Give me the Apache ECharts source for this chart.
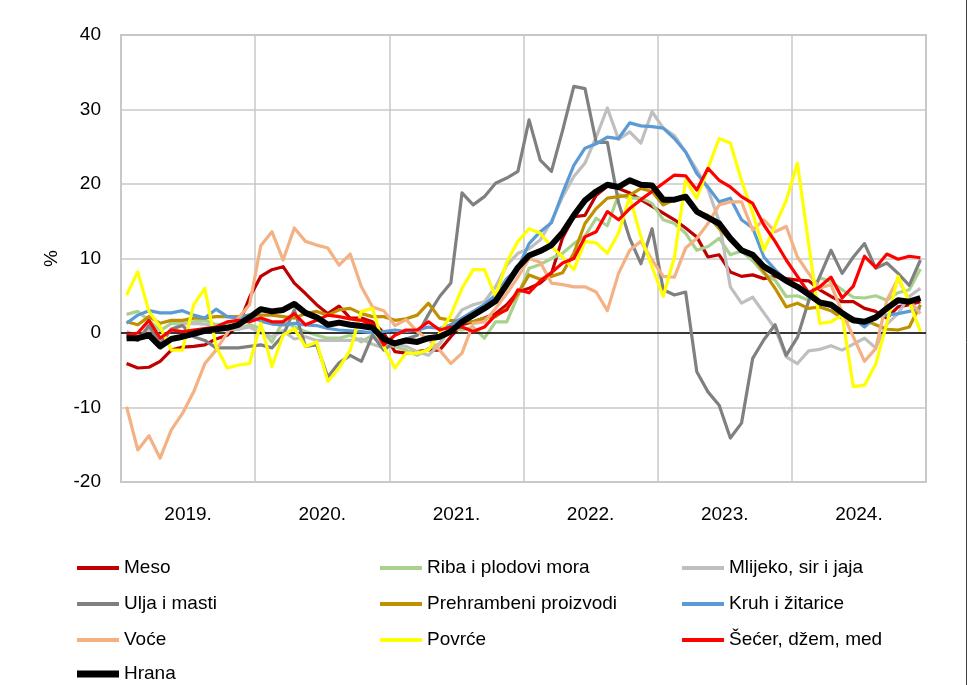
<!DOCTYPE html>
<html><head><meta charset="utf-8">
<script src="https://cdn.jsdelivr.net/npm/echarts@6/dist/echarts.min.js"></script>
<style>html,body{margin:0;padding:0;background:#fff}#c{width:973px;height:685px}</style>
</head><body><div id="c"></div><script>
const years = ['2019.', '2020.', '2021.', '2022.', '2023.', '2024.'];
const monthNames = ['01','02','03','04','05','06','07','08','09','10','11','12'];
const yTicks = { min: -20, max: 40, interval: 10 };

const meso = [
 -4.1,-4.7,-4.6,-3.8,-2.3,-1.9,-1.8,-1.6,-0.8,-0.3,1.0,4.8,
 7.6,8.5,8.9,6.7,5.3,3.8,2.6,3.6,2.0,2.0,1.5,0.0,
 -2.5,-2.7,-2.5,-2.3,-2.3,-0.5,1.1,1.5,2.0,2.6,3.8,5.5,
 6.0,6.7,8.0,12.8,15.6,15.8,18.5,19.7,19.4,18.8,17.9,17.0,
 16.1,15.2,14.1,12.9,10.2,10.5,8.2,7.6,7.8,7.3,7.6,7.3,
 7.1,7.0,5.8,4.9,4.2,4.2,3.3,2.9,2.0,3.5,3.8,4.2];
const riba = [
 2.5,2.9,1.7,0.3,1.3,1.3,1.5,1.7,1.1,1.3,0.5,1.1,
 0.6,-1.2,1.6,0.8,0.2,-0.3,-0.7,-0.7,-0.3,-1.2,-0.3,-1.5,
 -1.8,-2.3,-3.0,-2.1,-1.4,0.6,0.4,0.8,-0.7,1.5,1.5,5.0,
 8.7,9.2,10.0,10.7,12.0,13.0,15.4,14.4,18.6,18.1,18.1,17.4,
 15.2,14.7,13.4,11.1,11.6,12.7,10.5,11.0,9.7,8.0,7.1,4.9,
 5.0,4.4,7.4,6.9,5.8,4.8,4.7,5.0,4.4,5.4,5.8,8.6];
const mlijeko = [
 0.2,-0.5,0.5,-1.0,0.5,1.2,1.3,1.2,0.8,0.5,0.5,0.8,
 0.0,-0.5,0.3,-0.8,-0.5,-1.0,-1.0,-1.0,-1.0,-0.8,-1.5,-2.0,
 -1.5,-1.8,-2.5,-3.0,-1.5,1.0,3.1,3.8,4.2,6.2,9.1,10.7,
 11.3,12.5,15.0,18.3,21.0,22.8,26.3,30.2,26.0,27.0,25.5,29.7,
 27.5,26.5,24.3,21.9,19.3,15.0,6.2,4.0,4.8,2.7,0.6,-3.2,
 -4.1,-2.4,-2.2,-1.7,-2.3,-1.5,-0.7,-2.0,1.2,2.6,4.9,6.0];
const ulja = [
 -0.5,-1.0,1.0,-1.5,0.5,1.0,-0.5,-1.0,-2.0,-2.0,-2.0,-1.8,
 -1.6,-2.0,-0.3,3.1,-1.8,-1.6,-5.9,-4.0,-3.0,-3.8,-0.3,-2.3,
 -1.2,-0.8,-0.3,2.5,4.9,6.7,18.8,17.2,18.3,20.1,20.8,21.7,
 28.6,23.2,21.7,27.2,33.1,32.8,25.6,25.6,17.5,12.7,9.3,14.0,
 5.8,5.1,5.5,-5.2,-7.9,-9.7,-14.1,-12.1,-3.4,-0.9,1.1,-3.0,
 -0.6,4.3,7.6,11.1,8.0,10.2,12.0,8.7,9.4,8.0,6.4,9.8];
const prehrambeni = [
 1.5,1.1,2.2,1.3,1.7,1.7,2.0,2.0,2.2,2.2,2.2,2.4,
 2.4,2.4,2.2,2.0,2.6,2.9,2.4,3.1,3.3,2.6,2.2,2.2,
 1.7,1.9,2.4,4.0,2.0,1.7,1.5,1.5,2.0,2.2,3.3,5.3,
 7.8,7.2,7.6,8.1,10.7,14.7,16.7,18.1,18.3,18.5,19.4,19.0,
 17.2,17.9,18.1,16.2,15.8,14.0,12.5,11.3,10.2,8.2,6.0,3.5,
 4.0,3.3,3.5,3.0,2.0,1.5,1.7,1.1,0.5,0.4,0.8,3.8];
const kruh = [
 1.3,2.4,3.0,2.7,2.7,3.0,2.4,2.0,3.2,2.2,2.0,2.4,
 1.6,1.2,1.1,1.3,1.1,1.0,0.6,0.4,0.3,0.2,0.0,0.2,
 0.4,0.2,0.4,0.8,0.6,1.1,2.0,2.9,3.8,5.1,7.3,8.7,
 12.0,13.6,14.8,18.8,22.5,24.8,25.4,26.3,26.1,28.2,27.8,27.7,
 27.5,26.1,24.3,21.4,19.6,17.6,18.1,15.2,14.1,10.2,8.5,7.1,
 6.2,4.9,4.0,3.6,2.6,2.0,0.8,2.2,2.4,2.6,2.9,3.3];
const voce = [
 -9.9,-15.7,-13.8,-16.8,-13.0,-10.8,-7.9,-4.1,-2.3,0.0,2.0,3.8,
 11.7,13.6,9.8,14.1,12.3,11.8,11.4,9.1,10.6,6.2,3.5,3.0,
 1.0,1.8,0.2,-0.9,-2.3,-4.1,-2.7,1.3,1.5,3.3,5.3,7.5,
 10.0,9.5,6.7,6.5,6.2,6.2,5.5,3.0,8.0,11.1,12.3,9.8,
 7.6,7.5,11.4,12.7,14.7,17.2,17.6,17.6,13.8,15.2,13.6,14.3,
 10.2,8.0,6.0,6.5,2.8,-0.5,-3.8,-2.1,4.4,7.3,4.4,2.6];
const povrce = [
 5.1,8.2,2.9,0.8,-2.3,-2.3,3.8,6.0,-1.8,-4.7,-4.3,-4.1,
 1.3,-4.5,-0.3,0.6,-1.8,-1.2,-6.5,-4.7,-2.3,2.9,3.3,-1.8,
 -4.7,-2.7,-2.7,-2.3,0.0,2.4,6.0,8.5,8.5,4.9,9.5,12.3,
 14.0,13.4,11.6,10.2,8.5,12.3,12.1,10.7,13.4,18.3,12.9,8.9,
 4.9,10.2,20.5,18.1,22.1,26.1,25.5,20.5,16.1,11.1,14.4,17.8,
 22.8,12.0,1.3,1.5,2.4,-7.2,-7.0,-4.2,1.3,7.6,4.2,0.2];
const secer = [
 -0.3,0.0,1.7,-0.7,0.4,0.2,0.4,0.6,0.8,1.5,1.7,1.5,
 2.0,1.5,1.5,2.6,1.1,1.7,2.4,2.2,1.9,1.7,1.1,-1.6,
 -0.3,0.4,0.4,1.5,0.4,0.8,0.8,0.2,0.8,2.4,3.1,5.8,
 5.4,7.0,8.1,9.4,10.0,12.9,13.6,16.3,15.2,16.7,17.9,19.0,
 20.1,21.2,21.1,19.2,22.1,20.5,19.6,18.3,17.4,14.5,12.3,9.8,
 7.6,5.4,6.2,7.5,4.7,6.3,10.3,8.8,10.6,9.9,10.3,10.1];
const hrana = [
 -0.7,-0.7,-0.3,-1.8,-0.8,-0.5,-0.1,0.3,0.5,0.7,1.1,2.1,
 3.2,2.9,3.1,3.9,2.7,2.1,1.1,1.4,1.1,0.95,0.7,-0.8,
 -1.4,-1.0,-1.2,-0.7,-0.5,0.2,1.5,2.4,3.3,4.3,6.5,8.8,
 10.4,11.0,11.8,13.5,15.8,17.8,19.0,19.9,19.6,20.5,19.9,19.8,
 17.9,17.9,18.3,16.3,15.5,14.7,12.7,11.1,10.5,8.9,8.0,7.0,
 6.2,5.2,4.1,3.8,2.7,1.7,1.5,2.1,3.3,4.4,4.2,4.7];

const seriesDefs = [
  ['Meso', meso, '#C00000', 3.2],
  ['Riba i plodovi mora', riba, '#A9D18E', 3.2],
  ['Mlijeko, sir i jaja', mlijeko, '#BFBFBF', 3.2],
  ['Ulja i masti', ulja, '#808080', 3.2],
  ['Prehrambeni proizvodi', prehrambeni, '#BF9000', 3.2],
  ['Kruh i žitarice', kruh, '#5B9BD5', 3.2],
  ['Voće', voce, '#F4B183', 3.2],
  ['Povrće', povrce, '#FFFF00', 3.2],
  ['Šećer, džem, med', secer, '#FF0000', 3.2],
  ['Hrana', hrana, '#000000', 6]
];

const months = [];
years.forEach(y => monthNames.forEach(m => months.push(m + '.' + y)));

const FONT = 'Liberation Sans, Arial, sans-serif';
const series = seriesDefs.map((d, i) => ({
  name: d[0], type: 'line', data: d[1], xAxisIndex: 0, yAxisIndex: 0,
  symbol: 'none', smooth: false, animation: false,
  lineStyle: { color: d[2], width: d[3], join: 'round' },
  itemStyle: { color: d[2] },
  z: 2 + i
}));
series[0].markLine = {
  silent: true, symbol: 'none', label: { show: false },
  lineStyle: { color: '#000', width: 1.5, type: 'solid' },
  data: [{ yAxis: 0 }], animation: false
};

const legendBase = {
  orient: 'vertical', itemWidth: 42, itemHeight: 4, icon: 'rect', itemGap: 14,
  selectedMode: false, padding: 0,
  textStyle: { fontFamily: FONT, fontSize: 19, color: '#000', lineHeight: 22 }
};

const chart = echarts.init(document.getElementById('c'), null, { renderer: 'canvas' });
chart.setOption({
  backgroundColor: '#fff',
  animation: false,
  grid: { left: 121, right: 47, top: 35, bottom: 203, show: true, borderColor: '#c8c8c8', borderWidth: 2, backgroundColor: 'transparent' },
  xAxis: [
    { type: 'category', data: months, boundaryGap: true, show: false },
    { type: 'category', data: years, boundaryGap: true, position: 'bottom',
      axisLine: { show: false }, axisTick: { show: false },
      splitLine: { show: true, lineStyle: { color: '#c8c8c8', width: 1.5 } },
      axisLabel: { fontFamily: FONT, fontSize: 19, color: '#000', margin: 23 } }
  ],
  yAxis: {
    type: 'value', min: yTicks.min, max: yTicks.max, interval: yTicks.interval,
    name: '%', nameLocation: 'middle', nameGap: 60, nameRotate: 90,
    nameTextStyle: { fontFamily: FONT, fontSize: 19, color: '#000' },
    axisLine: { show: false }, axisTick: { show: false },
    splitLine: { show: true, lineStyle: { color: '#c8c8c8', width: 1.5 } },
    axisLabel: { fontFamily: FONT, fontSize: 19, color: '#000', margin: 20 }
  },
  legend: [
    Object.assign({}, legendBase, { left: 77, top: 557, data: ['Meso', 'Ulja i masti', 'Voće'] }),
    Object.assign({}, legendBase, { left: 380, top: 557, data: ['Riba i plodovi mora', 'Prehrambeni proizvodi', 'Povrće'] }),
    Object.assign({}, legendBase, { left: 682, top: 557, data: ['Mlijeko, sir i jaja', 'Kruh i žitarice', 'Šećer, džem, med'] }),
    Object.assign({}, legendBase, { left: 77, top: 663, itemHeight: 7, data: ['Hrana'] })
  ],
  graphic: [
    { type: 'line', silent: true, shape: { x1: 966.5, y1: 0, x2: 966.5, y2: 685 },
      style: { stroke: '#404040', lineWidth: 1 } }
  ],
  series: series
});
</script></body></html>
